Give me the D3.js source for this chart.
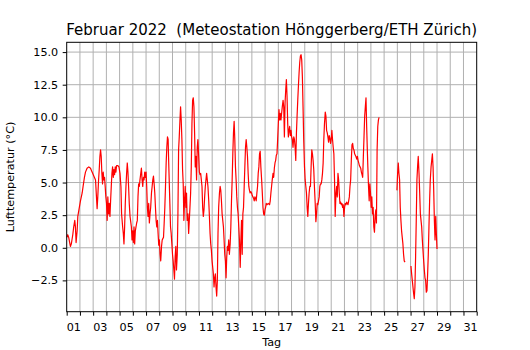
<!DOCTYPE html>
<meta charset="utf-8">
<style>
  body { margin: 0; background: #fff; }
  svg { font-family: "DejaVu Sans", sans-serif; }
</style>
<svg width="530" height="350"></svg>
<script src="https://cdn.jsdelivr.net/npm/d3@7/dist/d3.min.js"></script>
<script>
// Messwerte: [Tage seit 1. Feb 00:00, Lufttemperatur in °C], null = Datenluecke
var woche1 = [[0.02,0.8],[0.08,1.0],[0.15,0.8],[0.28,0.1],[0.35,0.3],[0.46,1.0],[0.53,1.6],[0.61,2.1],[0.66,1.6],[0.71,0.4],[0.79,1.3],[0.84,2.4],[0.94,3.0],[1.04,3.6],[1.17,4.2],[1.24,4.7],[1.34,5.4],[1.42,5.8],[1.54,6.1],[1.67,6.2],[1.80,6.1],[1.92,5.8],[2.05,5.5],[2.18,5.2],[2.25,3.9],[2.30,3.0],[2.35,3.9],[2.41,5.2],[2.46,6.0],[2.51,7.0],[2.56,7.5],[2.61,7.0],[2.66,5.7],[2.71,4.9],[2.76,5.8],[2.81,5.2],[2.86,5.4],[2.91,4.7],[2.96,3.9],[3.01,3.4],[3.06,2.1],[3.11,3.9],[3.17,2.6],[3.22,3.4],[3.27,2.4],[3.32,3.6],[3.37,4.7],[3.42,5.7],[3.47,6.2],[3.52,5.4],[3.57,6.0],[3.62,5.6],[3.67,6.2],[3.72,5.8],[3.77,6.3],[3.87,6.3],[3.95,6.2],[4.03,5.7],[4.10,4.7],[4.15,2.6],[4.23,1.6],[4.28,1.1],[4.33,0.3],[4.38,1.6],[4.43,3.4],[4.48,4.7],[4.53,5.7],[4.58,6.5],[4.63,5.8],[4.68,4.7],[4.73,3.4],[4.79,2.4],[4.84,2.0],[4.89,1.6],[4.94,0.6],[4.99,1.3],[5.04,0.4],[5.09,1.6],[5.14,0.3],[5.19,1.3],[5.24,1.6],[5.29,1.9],[5.34,2.1],[5.39,3.9],[5.44,4.9],[5.49,4.7],[5.54,5.2],[5.60,5.7],[5.65,6.1],[5.70,5.2],[5.75,4.7],[5.80,5.4],[5.85,5.2],[5.90,5.8],[5.95,5.4],[6.00,5.8],[6.05,4.7],[6.10,3.1],[6.15,2.4],[6.20,3.4],[6.25,1.9],[6.30,2.6],[6.35,3.1],[6.41,4.2],[6.46,4.7],[6.51,5.2],[6.56,5.5],[6.61,4.9],[6.66,4.2],[6.71,3.1],[6.76,2.1],[6.81,1.6],[6.86,2.1],[6.91,1.1],[6.96,0.2]];
var woche2 = [[7.01,0.6],[7.06,-0.5],[7.11,-1.0],[7.17,0.1],[7.22,0.6],[7.27,0.7],[7.32,0.8],[7.37,1.9],[7.42,3.1],[7.47,4.7],[7.52,6.5],[7.57,7.7],[7.62,8.5],[7.67,8.3],[7.70,7.0],[7.75,5.2],[7.80,3.4],[7.85,1.6],[7.90,1.1],[7.95,0.3],[8.00,-0.5],[8.05,-1.0],[8.10,-1.7],[8.15,-2.4],[8.20,-0.7],[8.25,0.1],[8.30,-1.7],[8.36,-0.5],[8.41,2.6],[8.46,7.5],[8.51,8.5],[8.56,9.7],[8.61,10.8],[8.66,9.8],[8.71,8.3],[8.76,6.0],[8.81,4.9],[8.86,2.1],[8.91,3.6],[8.96,4.7],[9.01,3.1],[9.06,4.2],[9.11,2.1],[9.17,2.6],[9.22,1.1],[9.27,2.1],[9.32,3.1],[9.37,4.2],[9.42,6.2],[9.47,9.5],[9.52,11.3],[9.57,11.5],[9.62,10.8],[9.67,8.8],[9.72,6.2],[9.77,7.0],[9.82,5.2],[9.87,7.7],[9.92,8.3],[9.98,7.0],[10.03,5.8],[10.08,5.6],[10.13,5.7],[10.18,5.2],[10.23,4.7],[10.28,3.1],[10.33,2.4],[10.38,2.9],[10.43,3.9],[10.48,4.7],[10.53,5.2],[10.58,5.7],[10.63,5.2],[10.68,4.7],[10.74,3.6],[10.79,2.4],[10.84,1.1],[10.89,0.3],[10.94,-0.2],[10.99,-1.0],[11.04,-1.5],[11.09,-2.0],[11.14,-3.0],[11.19,-2.3],[11.24,-2.0],[11.29,-3.0],[11.34,-3.7],[11.39,-2.5],[11.44,1.1],[11.49,3.1],[11.55,4.2],[11.60,4.7],[11.65,4.4],[11.70,3.6],[11.75,2.6],[11.80,2.1],[11.85,1.6],[11.90,0.6],[11.95,-0.5],[12.00,-1.0],[12.05,-2.3],[12.10,-0.7],[12.15,0.1],[12.20,-0.2],[12.25,0.6],[12.30,-0.5],[12.36,0.3],[12.41,1.6],[12.46,3.6],[12.51,5.2],[12.56,7.2],[12.61,8.8],[12.66,9.7],[12.71,8.3],[12.76,6.2],[12.81,5.2],[12.86,3.9],[12.91,3.1],[12.96,2.6],[13.01,1.6],[13.06,0.6],[13.12,-1.5],[13.17,0.6],[13.22,2.1],[13.27,-0.5],[13.32,2.6],[13.37,3.1],[13.42,4.7],[13.47,6.2],[13.52,7.7],[13.57,8.3],[13.62,7.7],[13.67,7.0],[13.72,5.7],[13.77,4.7],[13.82,4.4],[13.87,4.2],[13.93,4.3],[13.98,4.2]];
var woche3 = [[14.03,4.0],[14.08,3.9],[14.13,3.8],[14.18,3.6],[14.23,3.9],[14.28,3.8],[14.33,3.6],[14.38,4.2],[14.43,4.7],[14.48,5.7],[14.53,6.2],[14.58,7.2],[14.63,7.4],[14.68,6.2],[14.74,5.2],[14.79,4.2],[14.84,3.1],[14.89,2.6],[14.94,2.5],[14.99,2.9],[15.04,3.1],[15.09,3.4],[15.14,3.3],[15.24,3.4],[15.34,3.3],[15.39,3.6],[15.44,4.2],[15.49,4.7],[15.54,5.2],[15.60,5.7],[15.65,5.4],[15.70,6.1],[15.75,6.5],[15.80,6.7],[15.85,7.1],[15.90,7.2],[15.95,8.3],[16.00,9.5],[16.05,10.6],[16.10,9.8],[16.15,10.3],[16.20,9.8],[16.25,10.3],[16.30,10.8],[16.36,11.3],[16.41,10.8],[16.46,8.5],[16.51,11.1],[16.56,12.1],[16.61,12.9],[16.66,11.6],[16.71,9.5],[16.76,8.5],[16.81,9.0],[16.86,9.3],[16.91,8.6],[16.96,9.0],[17.01,8.5],[17.06,8.3],[17.11,7.7],[17.17,8.5],[17.22,8.3],[17.27,7.7],[17.32,6.7],[17.37,8.8],[17.42,10.1],[17.47,11.3],[17.52,12.4],[17.57,13.4],[17.62,14.2],[17.67,14.7],[17.72,14.8],[17.77,14.4],[17.82,13.1],[17.87,10.8],[17.92,8.3],[17.98,6.2],[18.03,5.2],[18.08,4.7],[18.13,4.2],[18.18,3.1],[18.23,2.4],[18.28,3.4],[18.33,4.2],[18.38,4.7],[18.43,4.7],[18.48,6.2],[18.53,7.5],[18.58,7.2],[18.63,6.7],[18.68,6.0],[18.73,4.7],[18.79,3.4],[18.84,2.0],[18.89,2.6],[18.94,3.4],[18.99,3.3],[19.04,3.6],[19.09,3.9],[19.14,4.7],[19.19,4.9],[19.24,4.9],[19.29,5.2],[19.34,5.7],[19.39,6.5],[19.44,8.3],[19.49,9.5],[19.55,10.4],[19.60,10.1],[19.65,9.0],[19.70,8.8],[19.75,8.5],[19.80,8.1],[19.85,8.6],[19.90,8.4],[19.95,8.0],[20.00,8.3],[20.05,9.0],[20.10,8.3],[20.15,7.7],[20.20,7.2],[20.25,5.2],[20.30,2.4],[20.36,4.2],[20.41,4.7],[20.46,3.9],[20.51,5.7],[20.56,5.2],[20.61,4.2],[20.66,3.4],[20.71,3.5],[20.76,3.3],[20.81,3.4],[20.86,3.1],[20.91,3.3],[20.96,2.4]];
var woche4 = [[21.01,3.1],[21.06,3.4],[21.12,3.3],[21.17,3.5],[21.22,3.4],[21.27,3.3],[21.32,3.6],[21.37,3.9],[21.42,4.7],[21.47,5.2],[21.52,6.7],[21.57,7.9],[21.62,8.0],[21.67,7.6],[21.72,7.5],[21.77,7.2],[21.82,7.1],[21.87,7.0],[21.93,6.8],[21.98,7.0],[22.03,6.7],[22.08,6.5],[22.13,6.3],[22.18,6.2],[22.23,6.1],[22.28,5.8],[22.33,5.6],[22.38,5.4],[22.43,7.0],[22.48,8.5],[22.53,10.1],[22.58,10.8],[22.63,11.5],[22.68,9.3],[22.73,7.5],[22.77,6.2],[22.82,4.7],[22.87,3.6],[22.92,4.9],[22.97,4.2],[23.02,3.1],[23.07,3.9],[23.12,2.6],[23.17,3.1],[23.22,1.6],[23.27,1.2],[23.32,2.4],[23.37,2.9],[23.42,1.9],[23.47,7.5],[23.52,9.3],[23.57,9.8],[23.62,10.0],[24.0,null],[24.97,4.4],[25.02,5.7],[25.07,6.5],[25.12,5.7],[25.17,5.2],[25.22,3.1],[25.27,2.1],[25.32,1.3],[25.37,0.8],[25.42,0.3],[25.47,-0.5],[25.52,-1.0],[25.58,-1.1],[25.8,null],[26.03,-1.4],[26.08,-2.0],[26.13,-2.5],[26.18,-3.0],[26.23,-3.5],[26.28,-3.9],[26.33,-3.0],[26.38,-0.7],[26.43,2.1],[26.48,5.2],[26.53,6.2],[26.58,7.0],[26.64,5.7],[26.69,4.2],[26.74,2.6],[26.79,2.1],[26.84,1.6],[26.89,0.6],[26.94,-0.2],[26.99,-1.0],[27.04,-1.7],[27.09,-2.3],[27.14,-2.5],[27.19,-3.4],[27.24,-3.3],[27.29,-2.0],[27.34,-0.5],[27.39,1.6],[27.44,3.6],[27.49,5.2],[27.55,6.2],[27.60,6.7],[27.65,7.2],[27.70,6.2],[27.75,4.4],[27.80,2.1],[27.85,0.6],[27.90,2.4],[27.95,1.1],[28.00,-0.1]];

var tagLabels = ["01","03","05","07","09","11","13","15","17","19","21","23","25","27","29","31"];
var yTicks = [-2.5, 0, 2.5, 5, 7.5, 10, 12.5, 15];

var daten = woche1.concat(woche2, woche3, woche4);

var plotL = 66.7, plotR = 476.7, plotT = 42.3, plotB = 311.7;
var svg = d3.select("svg");

var x = d3.scaleLinear().domain([0, 31]).range([plotL, plotR]);
var y = d3.scaleLinear().domain([-4.9, 15.75]).range([plotB, plotT]);

// Gitter: jeder Tag (Mitternacht) und die y-Ticks
svg.append("g").selectAll("line")
  .data(d3.range(1, 31))
  .enter().append("line")
  .attr("x1", function(d){ return x(d); })
  .attr("x2", function(d){ return x(d); })
  .attr("y1", plotT).attr("y2", plotB)
  .attr("stroke", "#b0b0b0").attr("stroke-width", 1);

svg.append("g").selectAll("line")
  .data(yTicks)
  .enter().append("line")
  .attr("y1", function(d){ return y(d); })
  .attr("y2", function(d){ return y(d); })
  .attr("x1", plotL).attr("x2", plotR)
  .attr("stroke", "#b0b0b0").attr("stroke-width", 1);

// Temperaturkurve
var line = d3.line()
  .defined(function(d){ return d[1] !== null; })
  .x(function(d){ return x(d[0]); })
  .y(function(d){ return y(d[1]); });

svg.append("path")
  .datum(daten)
  .attr("d", line)
  .attr("fill", "none")
  .attr("stroke", "red")
  .attr("stroke-width", 1.2)
  .attr("stroke-linejoin", "round");

// Achsen
var fs = "11.2px";

var xMinor = svg.append("g")
  .attr("transform", "translate(0," + plotB + ")")
  .call(d3.axisBottom(x).tickValues(d3.range(0, 32)).tickSize(4).tickFormat(""));
xMinor.select(".domain").remove();

var xLab = svg.append("g")
  .attr("transform", "translate(0," + plotB + ")")
  .call(d3.axisBottom(x)
    .tickValues(tagLabels.map(function(l){ return +l - 0.5; }))
    .tickSize(0).tickPadding(10.9)
    .tickFormat(function(d, i){ return tagLabels[i]; }));
xLab.select(".domain").remove();
xLab.selectAll("text").attr("font-size", fs).attr("font-family", "DejaVu Sans").attr("fill", "#000");

var yAx = svg.append("g")
  .attr("transform", "translate(" + plotL + ",0)")
  .call(d3.axisLeft(y).tickValues(yTicks).tickSize(4).tickPadding(4.5).tickFormat(d3.format(".1f")));
yAx.select(".domain").remove();
yAx.selectAll("text").attr("font-size", fs).attr("font-family", "DejaVu Sans").attr("fill", "#000");

svg.selectAll(".tick line").attr("stroke", "#000");

// Rahmen
svg.append("rect")
  .attr("x", plotL).attr("y", plotT)
  .attr("width", plotR - plotL).attr("height", plotB - plotT)
  .attr("fill", "none").attr("stroke", "#000").attr("stroke-width", 1);

// Beschriftungen
svg.append("text")
  .attr("x", (plotL + plotR) / 2).attr("y", 35)
  .attr("text-anchor", "middle")
  .attr("font-size", "15px")
  .style("white-space", "pre")
  .text("Februar 2022  (Meteostation Hönggerberg/ETH Zürich)");

svg.append("text")
  .attr("x", (plotL + plotR) / 2).attr("y", 346)
  .attr("text-anchor", "middle")
  .attr("font-size", fs)
  .text("Tag");

svg.append("text")
  .attr("transform", "translate(13.5," + (plotT + plotB) / 2 + ") rotate(-90)")
  .attr("text-anchor", "middle")
  .attr("font-size", fs)
  .text("Lufttemperatur (°C)");
</script>
